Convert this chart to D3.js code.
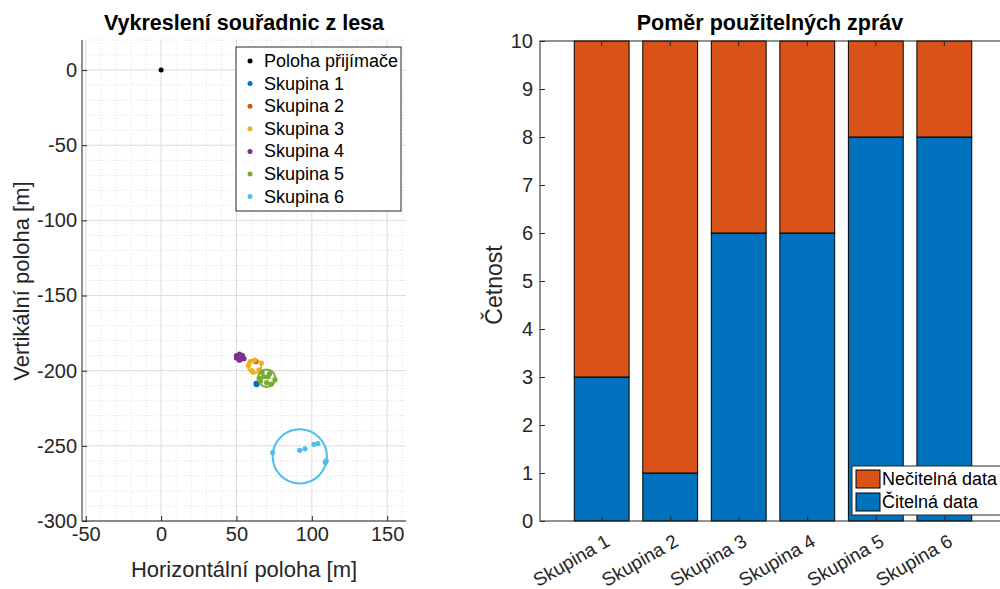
<!DOCTYPE html>
<html>
<head>
<meta charset="utf-8">
<script src="https://cdn.jsdelivr.net/npm/d3@7"></script>
<style>
body{margin:0;background:#fff;}
text{font-family:"Liberation Sans",Arial,Helvetica,sans-serif;}
</style>
</head>
<body>
<script>
var width=1000, height=589;
var colors=["#0072BD","#D95319","#EDB120","#7E2F8E","#77AC30","#4DBEEE"];
var groupNames=["Skupina 1","Skupina 2","Skupina 3","Skupina 4","Skupina 5","Skupina 6"];

// left chart data
var receiverX=[0], receiverY=[0];
var g1X=[63,63.5,63.2], g1Y=[-208.5,-209,-209.3];
var g2X=[62.8], g2Y=[-194];
var g3X=[58,60,65,66.5,62,59,61], g3Y=[-196.5,-200,-199.5,-195,-193,-194,-201];
var g4X=[50,52,54,55,52,50,53.5], g4Y=[-190,-189,-190,-192,-193,-191.5,-191];
var g5X=[65,67,72,75.5,70,73,66,68,71], g5Y=[-205,-201,-202,-206,-208,-209,-207,-204,-204];
var g6X=[74,92,95.5,101.5,104,109.5,109], g6Y=[-254.5,-253,-252,-249,-248.5,-260,-261];
var circleGroup=[2,3,4,5]; // index into groups
var circleCx=[62,52.5,70,92], circleCy=[-197,-191,-205,-257], circleR=[4.5,2.5,5.8,18];
var xTicksL=[-50,0,50,100,150], yTicksL=[0,-50,-100,-150,-200,-250,-300];

// right chart data
var readable=[3,1,6,6,8,8];
var unreadable=[7,9,4,4,2,2];
var yTicksR=[0,1,2,3,4,5,6,7,8,9,10];

var svg=d3.select("body").append("svg").attr("width",width).attr("height",height);
var fmt=function(d){return String(d);};

// ---------- left plot ----------
var L={l:82,r:406,t:40,b:521};
var xL=d3.scaleLinear().domain([-52.5,162.5]).range([L.l,L.r]);
var yL=d3.scaleLinear().domain([-300,20]).range([L.b,L.t]);

var gl=svg.append("g");
// minor grid
d3.range(-50,161,10).forEach(function(v){
	if(v%50!==0) gl.append("line").attr("x1",xL(v)).attr("x2",xL(v)).attr("y1",L.t).attr("y2",L.b).attr("stroke","#e0e0e0").attr("stroke-dasharray","1,2");
});
d3.range(-300,21,10).forEach(function(v){
	if(v%50!==0) gl.append("line").attr("y1",yL(v)).attr("y2",yL(v)).attr("x1",L.l).attr("x2",L.r).attr("stroke","#e0e0e0").attr("stroke-dasharray","1,2");
});
// major grid
xTicksL.forEach(function(v){
	gl.append("line").attr("x1",xL(v)).attr("x2",xL(v)).attr("y1",L.t).attr("y2",L.b).attr("stroke","#dcdcdc");
});
yTicksL.forEach(function(v){
	gl.append("line").attr("y1",yL(v)).attr("y2",yL(v)).attr("x1",L.l).attr("x2",L.r).attr("stroke","#dcdcdc");
});

var xAxisL=d3.axisBottom(xL).tickValues(xTicksL).tickSize(-5).tickPadding(8).tickFormat(fmt);
var yAxisL=d3.axisLeft(yL).tickValues(yTicksL).tickSize(-5).tickPadding(5).tickFormat(fmt);
var gxl=svg.append("g").attr("transform","translate(0,"+L.b+")").call(xAxisL);
var gyl=svg.append("g").attr("transform","translate("+L.l+",0)").call(yAxisL);
[gxl,gyl].forEach(function(a){
	a.attr("font-size",null).attr("font-family",null);
	a.select(".domain").remove();
	a.selectAll("line").attr("stroke","#262626");
	a.selectAll("text").attr("fill","#262626").style("font-size","20px");
});
gxl.selectAll("text").attr("dy","0.85em").attr("y",3);
svg.append("line").attr("x1",L.l).attr("x2",L.r).attr("y1",L.b).attr("y2",L.b).attr("stroke","#262626");
svg.append("line").attr("x1",L.l).attr("x2",L.l).attr("y1",L.t).attr("y2",L.b).attr("stroke","#262626");

svg.append("defs").append("clipPath").attr("id","clipL").append("rect").attr("x",L.l).attr("y",L.t).attr("width",L.r-L.l).attr("height",L.b-L.t);
var plotL=svg.append("g").attr("clip-path","url(#clipL)");

var groupsX=[g1X,g2X,g3X,g4X,g5X,g6X], groupsY=[g1Y,g2Y,g3Y,g4Y,g5Y,g6Y];
circleGroup.forEach(function(gi,i){
	plotL.append("ellipse").attr("cx",xL(circleCx[i])).attr("cy",yL(circleCy[i]))
		.attr("rx",xL(circleCx[i]+circleR[i])-xL(circleCx[i])).attr("ry",yL(circleCy[i]-circleR[i])-yL(circleCy[i]))
		.attr("fill","none").attr("stroke",colors[gi]).attr("stroke-width",2);
});
plotL.selectAll(".rcv").data(receiverX).enter().append("circle").attr("cx",function(d){return xL(d);}).attr("cy",function(d,i){return yL(receiverY[i]);}).attr("r",2.5).attr("fill","#000");
groupsX.forEach(function(xs,gi){
	plotL.selectAll(".p"+gi).data(xs).enter().append("circle").attr("class","p"+gi)
		.attr("cx",function(d){return xL(d);}).attr("cy",function(d,i){return yL(groupsY[gi][i]);})
		.attr("r",2.6).attr("fill",colors[gi]);
});

// legend left
var legL=svg.append("g");
legL.append("rect").attr("x",236).attr("y",47).attr("width",165).attr("height",164).attr("fill","#fff").attr("stroke","#262626");
var legNames=["Poloha přijímače"].concat(groupNames), legCols=["#000"].concat(colors);
legNames.forEach(function(n,i){
	var yy=61+i*22.6;
	legL.append("circle").attr("cx",250).attr("cy",yy).attr("r",2.5).attr("fill",legCols[i]);
	legL.append("text").attr("x",264).attr("y",yy+6).style("font-size","18px").attr("fill","#000").text(n);
});

svg.append("text").attr("x",244).attr("y",30).attr("text-anchor","middle").style("font-size","21.5px").attr("font-weight","bold").attr("fill","#000").text("Vykreslení souřadnic z lesa");
svg.append("text").attr("x",244).attr("y",577).attr("text-anchor","middle").style("font-size","22px").attr("fill","#262626").text("Horizontální poloha [m]");
svg.append("text").attr("transform","translate(29,281) rotate(-90)").attr("text-anchor","middle").style("font-size","22px").attr("fill","#262626").text("Vertikální poloha [m]");

// ---------- right plot ----------
var R={l:540,r:1006,t:41,b:521};
var xR=d3.scaleLinear().domain([0.1,6.9]).range([R.l,R.r]);
var yR=d3.scaleLinear().domain([0,10]).range([R.b,R.t]);
var barW=xR(0.8)-xR(0);
var cats=d3.range(1,7);

var gr=svg.append("g");
gr.selectAll(".bb").data(readable).enter().append("rect")
	.attr("x",function(d,i){return xR(cats[i])-barW/2;}).attr("width",barW)
	.attr("y",function(d){return yR(d);}).attr("height",function(d){return yR(0)-yR(d);})
	.attr("fill",colors[0]).attr("stroke","#000").attr("stroke-width",1);
gr.selectAll(".ob").data(unreadable).enter().append("rect")
	.attr("x",function(d,i){return xR(cats[i])-barW/2;}).attr("width",barW)
	.attr("y",function(d,i){return yR(readable[i]+d);}).attr("height",function(d,i){return yR(readable[i])-yR(readable[i]+d);})
	.attr("fill",colors[1]).attr("stroke","#000").attr("stroke-width",1);

var xAxisR=d3.axisBottom(xR).tickValues(cats).tickSize(-5).tickFormat(function(d){return groupNames[d-1];});
var yAxisR=d3.axisLeft(yR).tickValues(yTicksR).tickSize(-5).tickPadding(7).tickFormat(fmt);
var gxr=svg.append("g").attr("transform","translate(0,"+R.b+")").call(xAxisR);
var gyr=svg.append("g").attr("transform","translate("+R.l+",0)").call(yAxisR);
[gxr,gyr].forEach(function(a){
	a.attr("font-size",null).attr("font-family",null);
	a.select(".domain").remove();
	a.selectAll("line").attr("stroke","#262626");
	a.selectAll("text").attr("fill","#262626").style("font-size","20px");
});
gxr.selectAll("text").style("font-size","19px").attr("text-anchor","end").attr("dy",0).attr("y",0)
	.attr("transform","translate(9,24) rotate(-30)");
// top ticks
cats.forEach(function(c){
	svg.append("line").attr("x1",xR(c)).attr("x2",xR(c)).attr("y1",R.t).attr("y2",R.t+5).attr("stroke","#262626");
});
svg.append("rect").attr("x",R.l).attr("y",R.t).attr("width",R.r-R.l).attr("height",R.b-R.t).attr("fill","none").attr("stroke","#262626");

// legend right
var legR=svg.append("g");
legR.append("rect").attr("x",852).attr("y",466).attr("width",150).attr("height",49).attr("fill","#fff").attr("stroke","#262626");
var legRNames=["Nečitelná data","Čitelná data"], legRCols=[colors[1],colors[0]];
legRNames.forEach(function(n,i){
	var yy=470+i*23;
	legR.append("rect").attr("x",856).attr("y",yy).attr("width",24).attr("height",18).attr("fill",legRCols[i]).attr("stroke","#000");
	legR.append("text").attr("x",882).attr("y",yy+15).style("font-size","18px").attr("fill","#000").text(n);
});

svg.append("text").attr("x",770).attr("y",30).attr("text-anchor","middle").style("font-size","21.5px").attr("font-weight","bold").attr("fill","#000").text("Poměr použitelných zpráv");
svg.append("text").attr("transform","translate(502,285) rotate(-90)").attr("text-anchor","middle").style("font-size","23px").attr("fill","#262626").text("Četnost");
</script>
</body>
</html>
